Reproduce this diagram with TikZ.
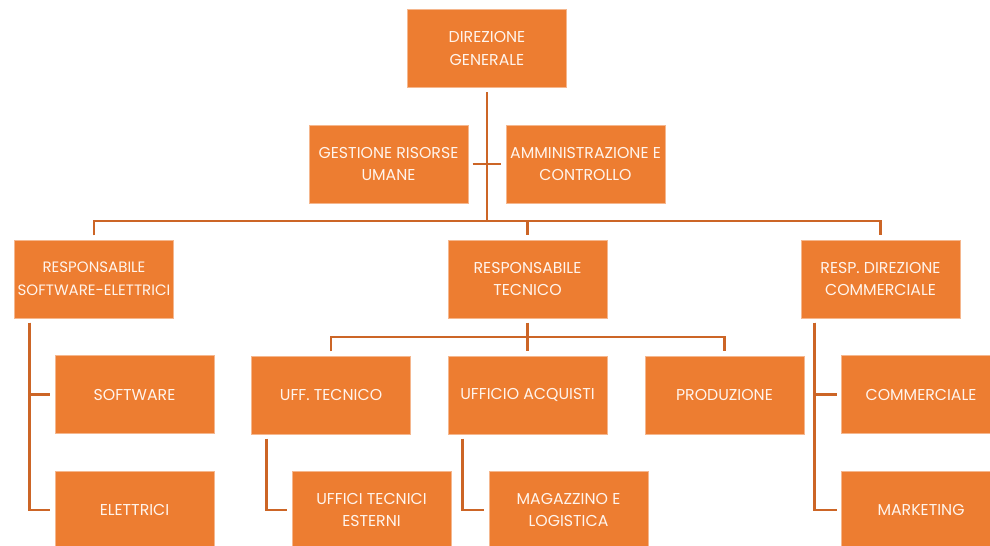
\documentclass[tikz,border=0pt]{standalone}
\usepackage{fontspec}
\setmainfont{Poppins}
\usetikzlibrary{calc}
\definecolor{boxorange}{HTML}{ED7D31}
\definecolor{lineorange}{HTML}{CC6526}
\definecolor{textcream}{HTML}{FFF4EC}

\begin{document}
\begin{tikzpicture}[x=0.025cm, y=-0.025cm,
		box/.style={fill=boxorange, draw=boxorange!55!white, line width=0.4pt,
			minimum width=3.975cm, minimum height=1.95cm, inner sep=1pt,
			align=center, text=textcream, font=\fontsize{11.2}{16.3}\selectfont},
		link/.style={draw=lineorange, line width=2pt, shorten >=3pt, shorten <=3pt}]
		\useasboundingbox (0,0) rectangle (990,545);

		% vertici
		\node[box] (dg) at (487,48.5) {DIREZIONE\\GENERALE};
		\node[box] (gru) at (388.5,164) {GESTIONE RISORSE\\UMANE};
		\node[box] (amm) at (585.5,164) {AMMINISTRAZIONE E\\CONTROLLO};

		% responsabili
		\node[box, font=\fontsize{10.7}{16.3}\selectfont] (rse) at (94,279) {RESPONSABILE\\SOFTWARE-ELETTRICI};
		\node[box] (rt) at (527.5,279) {RESPONSABILE\\TECNICO};
		\node[box] (rdc) at (880.5,279) {RESP. DIREZIONE\\COMMERCIALE};

		% uffici
		\node[box] (uft) at (331,395) {UFF. TECNICO};
		\node[box] (uac) at (527.5,395) {UFFICIO ACQUISTI};
		\node[box] (pro) at (724.5,395) {PRODUZIONE};
		\node[box] (ute) at (371.5,510) {UFFICI TECNICI\\ESTERNI};
		\node[box] (mag) at (568.5,510) {MAGAZZINO E\\LOGISTICA};

		\node[box] (sw) at (134.5,394.5) {SOFTWARE};
		\node[box] (el) at (134.5,510) {ELETTRICI};
		\node[box] (com) at (921,394.5) {COMMERCIALE};
		\node[box] (mkt) at (921,510) {MARKETING};

		\coordinate (bus1) at (487,221);
		\coordinate (bus2) at (527.5,337);

		\draw[link, shorten >=0pt] (dg.south) -- (bus1);
		\draw[link] (gru.east) -- (amm.west);
		\draw[link] (rse.north) |- (bus1) -| (rdc.north);
		\draw[link, shorten <=0pt] (rt.north |- bus1) -- (rt.north);

		\draw[link] (uft.north) |- (bus2) -| (pro.north);
		\draw[link] (rt.south) -- (uac.north);

		\draw[link] ($(rse.south west)+(15,0)$) |- (sw.west);
		\draw[link] ($(rse.south west)+(15,0)$) |- (el.west);
		\draw[link] ($(rdc.south west)+(14,0)$) |- (com.west);
		\draw[link] ($(rdc.south west)+(14,0)$) |- (mkt.west);
		\draw[link] ($(uft.south west)+(15,0)$) |- (ute.west);
		\draw[link] ($(uac.south west)+(15,0)$) |- (mag.west);
	\end{tikzpicture}
\end{document}
